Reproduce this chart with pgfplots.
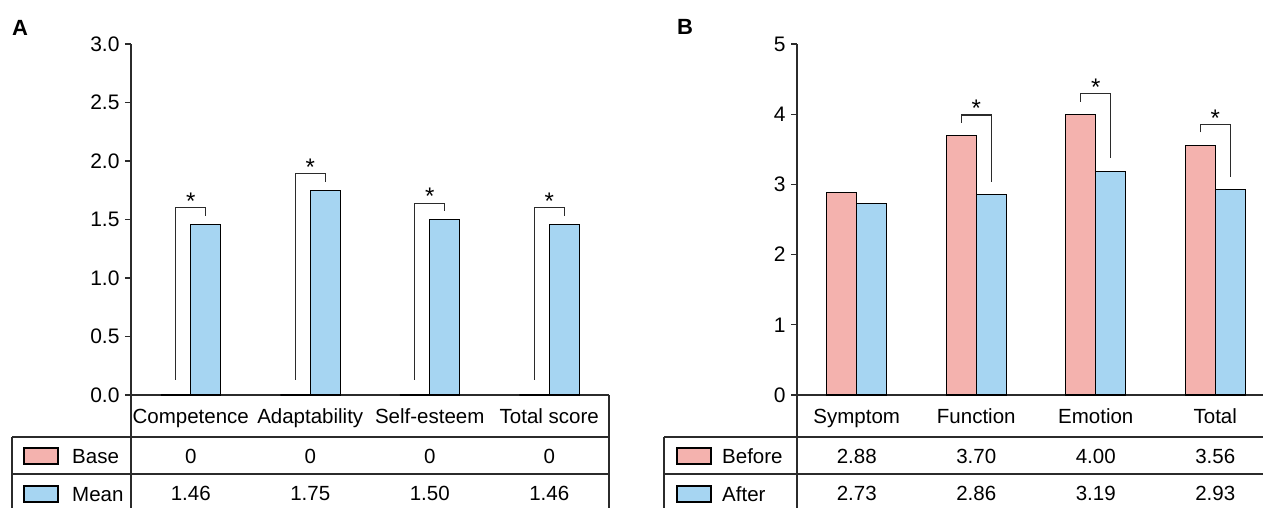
\documentclass[border=0pt]{standalone}
\usepackage{fontspec}
\setmainfont{Liberation Sans}
\usepackage{pgfplots}
\pgfplotsset{compat=1.18}
\definecolor{pinkbar}{HTML}{F4B2AE}
\definecolor{bluebar}{HTML}{A6D5F2}
\definecolor{axgray}{HTML}{2B2B2B}

\pgfplotsset{
  mybars/.style={
    scale only axis, width=478pt, height=351pt, anchor=south west,
    xmin=-0.5, xmax=3.5, ymin=0,
    axis x line=bottom, axis y line=left,
    axis line style={-, line width=1.3pt, axgray},
    every tick/.style={line width=1.3pt, axgray},
    every minor tick/.style={line width=1.3pt, axgray},
    tick align=outside, major tick length=6pt, minor tick length=9pt,
    xtick=\empty, minor xtick={0.5,1.5,2.5},
    ybar=0pt, bar width=30pt,
    clip=false,
    /pgf/number format/assume math mode=true,
    tick label style={font=\fontsize{21}{25}\selectfont},
    yticklabel style={xshift=-2pt},
  },
}
\tikzset{sigstar/.style={anchor=base, inner sep=0pt, yshift=-1.5pt, font=\fontsize{24}{28}\selectfont}}

\begin{document}
\begin{tikzpicture}[font=\fontsize{20.5}{24}\selectfont]
\useasboundingbox (0pt,0pt) rectangle (1263pt,507pt);

% ---------------- Panel A ----------------
\begin{axis}[mybars, at={(131pt,112pt)}, ymax=3,
  ytick={0,0.5,1,1.5,2,2.5,3},
  yticklabel style={/pgf/number format/.cd, fixed, fixed zerofill, precision=1}]
\addplot[fill=pinkbar, draw=black, line width=1.1pt] coordinates {(0,0) (1,0) (2,0) (3,0)};
\addplot[fill=bluebar, draw=black, line width=1.1pt] coordinates {(0,1.46) (1,1.75) (2,1.50) (3,1.46)};
% significance brackets
\draw[axgray, line width=1.2pt] (axis cs:-0.125,0.13) |- (axis cs:0.125,1.60) -- (axis cs:0.125,1.53);
\draw[axgray, line width=1.2pt] (axis cs:0.875,0.13) |- (axis cs:1.125,1.89) -- (axis cs:1.125,1.82);
\draw[axgray, line width=1.2pt] (axis cs:1.875,0.13) |- (axis cs:2.125,1.64) -- (axis cs:2.125,1.57);
\draw[axgray, line width=1.2pt] (axis cs:2.875,0.13) |- (axis cs:3.125,1.60) -- (axis cs:3.125,1.53);
\node[sigstar] at (axis cs:0,1.60) {*};
\node[sigstar] at (axis cs:1,1.89) {*};
\node[sigstar] at (axis cs:2,1.64) {*};
\node[sigstar] at (axis cs:3,1.60) {*};
% category labels and table values
\node[anchor=base, yshift=-28pt] at (axis cs:0,0) {Competence};
\node[anchor=base, yshift=-28pt] at (axis cs:1,0) {Adaptability};
\node[anchor=base, yshift=-28pt] at (axis cs:2,0) {Self-esteem};
\node[anchor=base, yshift=-28pt] at (axis cs:3,0) {Total score};
\node[anchor=base, yshift=-68pt] at (axis cs:0,0) {0};
\node[anchor=base, yshift=-68pt] at (axis cs:1,0) {0};
\node[anchor=base, yshift=-68pt] at (axis cs:2,0) {0};
\node[anchor=base, yshift=-68pt] at (axis cs:3,0) {0};
\node[anchor=base, yshift=-105.5pt] at (axis cs:0,0) {1.46};
\node[anchor=base, yshift=-105.5pt] at (axis cs:1,0) {1.75};
\node[anchor=base, yshift=-105.5pt] at (axis cs:2,0) {1.50};
\node[anchor=base, yshift=-105.5pt] at (axis cs:3,0) {1.46};
\end{axis}

% ---------------- Panel B ----------------
\begin{axis}[mybars, at={(797pt,112pt)}, ymax=5,
  ytick={0,1,2,3,4,5}]
\addplot[fill=pinkbar, draw=black, line width=1.1pt] coordinates {(0,2.88) (1,3.70) (2,4.00) (3,3.56)};
\addplot[fill=bluebar, draw=black, line width=1.1pt] coordinates {(0,2.73) (1,2.86) (2,3.19) (3,2.93)};
\draw[axgray, line width=1.2pt] (axis cs:0.875,3.88) |- (axis cs:1.125,3.99) -- (axis cs:1.125,3.04);
\draw[axgray, line width=1.2pt] (axis cs:1.875,4.18) |- (axis cs:2.125,4.29) -- (axis cs:2.125,3.37);
\draw[axgray, line width=1.2pt] (axis cs:2.875,3.74) |- (axis cs:3.125,3.85) -- (axis cs:3.125,3.11);
\node[sigstar] at (axis cs:1,3.99) {*};
\node[sigstar] at (axis cs:2,4.29) {*};
\node[sigstar] at (axis cs:3,3.85) {*};
\node[anchor=base, yshift=-28pt] at (axis cs:0,0) {Symptom};
\node[anchor=base, yshift=-28pt] at (axis cs:1,0) {Function};
\node[anchor=base, yshift=-28pt] at (axis cs:2,0) {Emotion};
\node[anchor=base, yshift=-28pt] at (axis cs:3,0) {Total};
\node[anchor=base, yshift=-68pt] at (axis cs:0,0) {2.88};
\node[anchor=base, yshift=-68pt] at (axis cs:1,0) {3.70};
\node[anchor=base, yshift=-68pt] at (axis cs:2,0) {4.00};
\node[anchor=base, yshift=-68pt] at (axis cs:3,0) {3.56};
\node[anchor=base, yshift=-105.5pt] at (axis cs:0,0) {2.73};
\node[anchor=base, yshift=-105.5pt] at (axis cs:1,0) {2.86};
\node[anchor=base, yshift=-105.5pt] at (axis cs:2,0) {3.19};
\node[anchor=base, yshift=-105.5pt] at (axis cs:3,0) {2.93};
\end{axis}

% ---------------- table grid ----------------
\begin{scope}[axgray, line width=1.3pt]
\draw (12pt,70pt) -- (609pt,70pt);
\draw (12pt,33pt) -- (609pt,33pt);
\draw (12pt,70pt) -- (12pt,-5pt);
\draw (131pt,112pt) -- (131pt,-5pt);
\draw (609pt,112pt) -- (609pt,-5pt);
\draw (664pt,70pt) -- (1275pt,70pt);
\draw (664pt,33pt) -- (1275pt,33pt);
\draw (664pt,70pt) -- (664pt,-5pt);
\draw (797pt,112pt) -- (797pt,-5pt);
\end{scope}

% legend swatches and row labels
\draw[fill=pinkbar, line width=1.1pt] (24pt,43pt) rectangle (58pt,59pt);
\draw[fill=bluebar, line width=1.1pt] (24pt,5pt) rectangle (58pt,21pt);
\node[anchor=base west, inner sep=0pt] at (72pt,44pt) {Base};
\node[anchor=base west, inner sep=0pt] at (72pt,6pt) {Mean};
\draw[fill=pinkbar, line width=1.1pt] (677pt,43pt) rectangle (711pt,59pt);
\draw[fill=bluebar, line width=1.1pt] (677pt,5pt) rectangle (711pt,21pt);
\node[anchor=base west, inner sep=0pt] at (722pt,44pt) {Before};
\node[anchor=base west, inner sep=0pt] at (722pt,6pt) {After};

% panel letters
\node[anchor=base west, inner sep=0pt, font=\fontsize{22}{26}\selectfont\bfseries] at (12pt,471.5pt) {A};
\node[anchor=base west, inner sep=0pt, font=\fontsize{22}{26}\selectfont\bfseries] at (677pt,472pt) {B};
\end{tikzpicture}
\end{document}
